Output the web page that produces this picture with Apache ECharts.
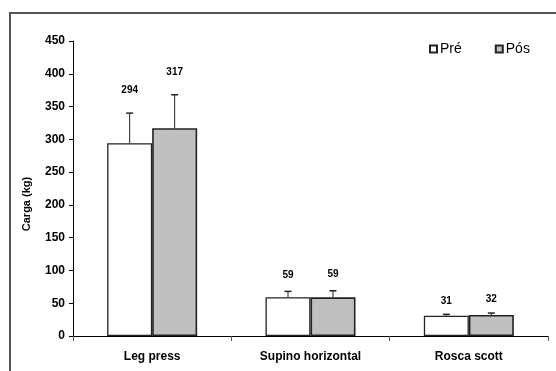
<!DOCTYPE html>
<html><head><meta charset="utf-8">
<script src="https://cdn.jsdelivr.net/npm/echarts@6/dist/echarts.min.js"></script>
<style>html,body{margin:0;padding:0;background:#fff}#c{width:556px;height:371px}</style>
</head><body><div id="c"></div>
<script>
const categories = ['Leg press', 'Supino horizontal', 'Rosca scott'];
const seriesNames = ['Pré', 'Pós'];
const preValues = [294, 59, 31];
const posValues = [317, 59, 32];
const preSD = [46, 9, 2];
const posSD = [51, 10, 3];
const yTicks = [0, 50, 100, 150, 200, 250, 300, 350, 400, 450];

const chart = echarts.init(document.getElementById('c'), null, {renderer: 'canvas'});
const FONT = 'Liberation Sans, Arial, sans-serif';
const BW = 45;

function errSeries(values, sds, offset) {
  return {
    type: 'custom',
    silent: true,
    z: 5,
    data: values.map((v, i) => [i, v, sds[i]]),
    renderItem: function (params, api) {
      const i = api.value(0), v = api.value(1), sd = api.value(2);
      const base = api.coord([i, v]);
      const top = api.coord([i, v + sd]);
      const x = base[0] + offset;
      return {
        type: 'group',
        children: [
          {type: 'line', shape: {x1: x, y1: base[1], x2: x, y2: top[1]}, style: {stroke: '#222', lineWidth: 1}},
          {type: 'line', shape: {x1: x - 3.5, y1: top[1], x2: x + 3.5, y2: top[1]}, style: {stroke: '#222', lineWidth: 1.5}},
          {type: 'text', x: x, y: top[1] - Math.min(18, 7 + sd * 0.5), style: {text: String(v), font: 'bold 10px ' + FONT, fill: '#000', align: 'center', verticalAlign: 'bottom'}}
        ]
      };
    }
  };
}

chart.setOption({
  animation: false,
  backgroundColor: '#fff',
  grid: {left: 73, right: 8, top: 41, bottom: 35, containLabel: false},
  legend: {
    left: 424, top: 37,
    itemWidth: 7, itemHeight: 7, itemGap: 33,
    icon: 'rect',
    textStyle: {fontFamily: FONT, fontSize: 14, color: '#000', padding: [0, 0, 0, -2]},
    data: seriesNames
  },
  xAxis: {
    type: 'category',
    data: categories,
    axisLine: {lineStyle: {color: '#000', width: 1}},
    axisTick: {show: true, length: 5, lineStyle: {color: '#555'}},
    axisLabel: {fontFamily: FONT, fontWeight: 'bold', fontSize: 12, color: '#000', margin: 15}
  },
  yAxis: {
    type: 'value',
    min: yTicks[0], max: yTicks[yTicks.length - 1], interval: 50,
    axisLine: {show: true, lineStyle: {color: '#000', width: 1}},
    axisTick: {show: true, length: 4, lineStyle: {color: '#000'}},
    splitLine: {show: false},
    axisLabel: {fontFamily: FONT, fontWeight: 'bold', fontSize: 12, color: '#000', margin: 8}
  },
  graphic: [
    {type: 'rect', shape: {x: 10, y: 13, width: 600, height: 400}, style: {fill: 'none', stroke: '#555', lineWidth: 2}, silent: true, z: -1},
    {type: 'text', x: 27, y: 204, rotation: Math.PI / 2, style: {text: 'Carga (kg)', font: 'bold 11px ' + FONT, fill: '#000', align: 'center', verticalAlign: 'middle'}}
  ],
  series: [
    {name: seriesNames[0], type: 'bar', data: preValues, barWidth: BW, barGap: '0%',
     itemStyle: {color: '#ffffff', borderColor: '#222', borderWidth: 1.3}},
    {name: seriesNames[1], type: 'bar', data: posValues, barWidth: BW, barGap: '0%',
     itemStyle: {color: '#c0c0c0', borderColor: '#222', borderWidth: 1.6}},
    errSeries(preValues, preSD, -BW / 2),
    errSeries(posValues, posSD, BW / 2)
  ]
});
</script></body></html>
